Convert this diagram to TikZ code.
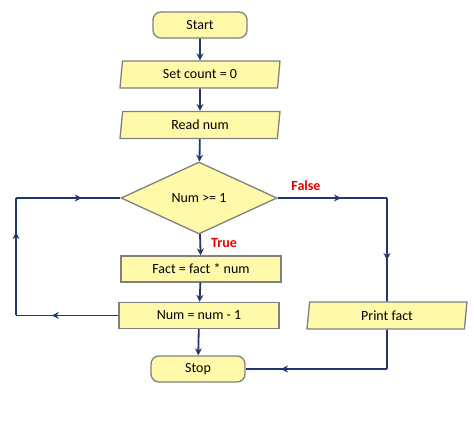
\documentclass[tikz,border=0pt]{standalone}
\usepackage{fontspec}
\setmainfont{Carlito}
\usetikzlibrary{shapes.geometric,arrows.meta,decorations.markings}
\definecolor{boxfill}{RGB}{255,250,170}
\definecolor{boxline}{RGB}{128,128,128}
\definecolor{flow}{RGB}{31,56,110}
\definecolor{lblred}{RGB}{230,0,0}
\tikzset{
  box/.style={draw=boxline, fill=boxfill, line width=1.3pt, font=\fontsize{14}{16}\selectfont, inner sep=0pt},
  term/.style={box, rectangle, rounded corners=8pt, minimum width=94pt, minimum height=26pt},
  proc/.style={box, rectangle, minimum width=160pt, minimum height=26pt},
  io/.style={box, trapezium, trapezium left angle=75, trapezium right angle=105, trapezium stretches body, minimum width=160pt, minimum height=27pt},
  dec/.style={box, diamond, minimum width=156pt, minimum height=72pt},
  conn/.style={draw=flow, line width=1.8pt},
  arr/.style={conn, -{Stealth[length=7pt,width=7pt]}},
  midarr/.style={conn, postaction={decorate}, decoration={markings, mark=at position #1 with {\arrow{Stealth[length=7pt,width=7pt]}}}},
  lbl/.style={text=lblred, font=\fontsize{14}{16}\selectfont\bfseries}
}
\begin{document}
\begin{tikzpicture}[x=1pt,y=-1pt]
\useasboundingbox (0,0) rectangle (474,430);
\node[term] (start) at (200,25) {Start};
\node[io] (setc) at (200,74.5) {Set count = 0};
\node[io] (read) at (200,125) {Read num};
\node[dec] (cond) at (199,198) {Num >= 1};
\node[proc] (fact) at (201,269) {Fact = fact * num};
\node[proc] (numm) at (199,315.5) {Num = num - 1};
\node[io] (print) at (387,315.5) {Print fact};
\node[term] (stop) at (198,369) {Stop};
\coordinate (fr) at (387,198);
\coordinate (ll) at (16,315.5);
\coordinate (lu) at (16,198);
\coordinate (br) at (387,369);
\draw[arr] (start) -- (setc);
\draw[arr] (setc) -- (read);
\draw[arr] (read) -- (cond);
\draw[arr] (cond) -- (fact);
\draw[arr] (fact) -- (numm);
\draw[arr] (numm) -- (stop);
\draw[midarr=0.58] (cond.east) -- (fr);
\draw[midarr=0.6] (fr) -- (print.north);
\draw[midarr=0.65] (numm.west) -- (ll);
\draw[midarr=0.71] (ll) -- (lu);
\draw[midarr=0.63] (lu) -- (cond.west);
\draw[conn] (print.south) -- (br);
\draw[midarr=0.75] (br) -- (stop.east);
\node[lbl] (tlbl) at (224,243) {True};
\node[lbl] (flbl) at (306,186) {False};
\end{tikzpicture}
\end{document}
